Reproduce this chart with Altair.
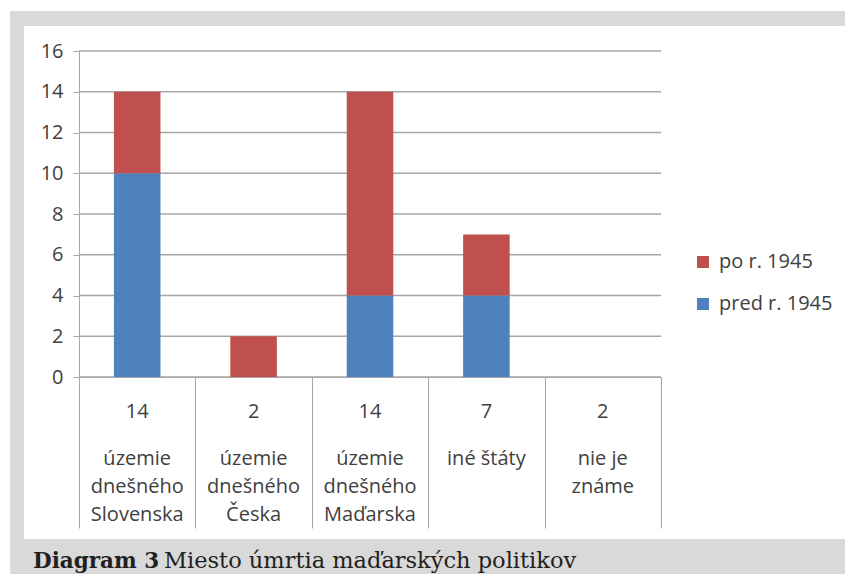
import altair as alt
import pandas as pd

# ---- data ----
categories = [
    "územie\ndnešného\nSlovenska",
    "územie\ndnešného\nČeska",
    "územie\ndnešného\nMaďarska",
    "iné štáty",
    "nie je\nznáme",
]
totals = [14, 2, 14, 7, 2]
pred_1945 = [10, 0, 4, 4, 0]
po_1945 = [4, 2, 10, 3, 0]
series = ["po r. 1945", "pred r. 1945"]
colors = ["#C0504D", "#4F81BD"]
y_ticks = [0, 2, 4, 6, 8, 10, 12, 14, 16]
caption_bold = "Diagram 3"
caption_rest = "Miesto úmrtia maďarských politikov"

# ---- tables ----
rows = []
for c, p, q in zip(categories, pred_1945, po_1945):
    rows.append({"cat": c, "series": "pred r. 1945", "value": p, "ord": 0})
    rows.append({"cat": c, "series": "po r. 1945", "value": q, "ord": 1})
bars_df = pd.DataFrame(rows)
tot_df = pd.DataFrame({"cat": categories, "total": [str(t) for t in totals]})
grid_df = pd.DataFrame({"value": y_ticks})
one = pd.DataFrame({"a": [0]})
cap_bold_df = pd.DataFrame({"t": [caption_bold]})
cap_rest_df = pd.DataFrame({"t": [caption_rest]})

W, H = 582, 326
OX, OY = 79, 51  # page position of plot origin
PAD_L, PAD_T = OX - 8, OY - 8
CANVAS_W, CANVAS_H = 837, 566

TXT = "#404040"
LINE = "#A6A6A6"
FONT = "Open Sans"

xsort = categories
xscale = alt.Scale(paddingInner=0, paddingOuter=0)
yscale = alt.Scale(domain=[0, 16], nice=False)

x_axis = alt.Axis(labels=False, title=None, tickBand="extent",
                  tickSize=151, tickColor=LINE, domainColor=LINE,
                  tickWidth=1, domainWidth=1, grid=False, zindex=1)
y_axis = alt.Axis(values=y_ticks, tickSize=6, labelPadding=10,
                  labelFontSize=20, labelFont=FONT, labelColor=TXT,
                  domainColor=LINE, tickColor=LINE, grid=False,
                  title=None, zindex=1)

frame = alt.Chart(one).mark_rect(color="#D9D9D9").encode(
    x=alt.value(10 - OX), x2=alt.value(853 - OX),
    y=alt.value(11 - OY), y2=alt.value(584 - OY),
)
inner = alt.Chart(one).mark_rect(color="#FFFFFF").encode(
    x=alt.value(24 - OX), x2=alt.value(852 - OX),
    y=alt.value(26 - OY), y2=alt.value(539 - OY),
)

grid = alt.Chart(grid_df).mark_rule(color=LINE, strokeWidth=1.5).encode(
    y=alt.Y("value:Q", scale=yscale, axis=y_axis),
    x=alt.value(0), x2=alt.value(W),
)

bars = alt.Chart(bars_df).mark_bar(width=alt.RelativeBandSize(0.4)).encode(
    x=alt.X("cat:N", sort=xsort, scale=xscale, axis=x_axis),
    y=alt.Y("value:Q", stack="zero", scale=yscale, axis=y_axis),
    color=alt.Color("series:N", scale=alt.Scale(domain=series, range=colors),
                    legend=alt.Legend(orient="none", legendX=693 - OX,
                                      legendY=252 - OY, title=None,
                                      symbolType="square", symbolSize=144,
                                      symbolStrokeWidth=0, labelFontSize=20,
                                      labelFont=FONT, labelColor=TXT,
                                      labelOffset=6, rowPadding=22,
                                      padding=0)),
    order=alt.Order("ord:Q"),
)

tot_text = alt.Chart(tot_df).mark_text(
    font=FONT, fontSize=20, color=TXT, baseline="alphabetic", align="center"
).encode(
    x=alt.X("cat:N", sort=xsort, scale=xscale, axis=x_axis),
    y=alt.value(418 - OY),
    text="total:N",
)

cat_text = alt.Chart(pd.DataFrame({"cat": categories})).mark_text(
    font=FONT, fontSize=20, color=TXT, baseline="top", align="center",
    lineBreak="\n", lineHeight=28,
).encode(
    x=alt.X("cat:N", sort=xsort, scale=xscale, axis=x_axis),
    y=alt.value(449 - OY),
    text="cat:N",
)

cap1 = alt.Chart(cap_bold_df).mark_text(
    font="DejaVu Serif", fontSize=21.5, fontWeight="bold", color="#231F20",
    align="left", baseline="alphabetic",
).encode(x=alt.value(33 - OX), y=alt.value(568 - OY), text="t:N")

cap2 = alt.Chart(cap_rest_df).mark_text(
    font="DejaVu Serif", fontSize=22.5, color="#231F20",
    align="left", baseline="alphabetic",
).encode(x=alt.value(164 - OX), y=alt.value(568 - OY), text="t:N")

chart = alt.layer(frame, inner, grid, bars, tot_text, cat_text, cap1, cap2).properties(
    width=W, height=H,
    autosize=alt.AutoSizeParams(type="none"),
    padding={"left": PAD_L, "top": PAD_T,
             "right": CANVAS_W - PAD_L - W, "bottom": CANVAS_H - PAD_T - H},
    background="#FFFFFF",
).configure_view(stroke=None)

chart.save("out.html", embed_options={"renderer": "svg", "actions": False})
